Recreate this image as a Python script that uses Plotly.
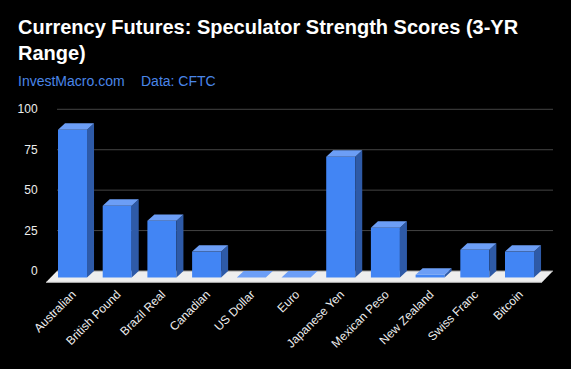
import plotly.graph_objects as go

categories = ["Australian", "British Pound", "Brazil Real", "Canadian", "US Dollar", "Euro",
              "Japanese Yen", "Mexican Peso", "New Zealand", "Swiss Franc", "Bitcoin"]
scores = [91.4, 44.3, 35.0, 16.0, 0.0, 0.0, 74.6, 30.7, 1.7, 17.1, 16.0]
y_ticks = [0, 25, 50, 75, 100]

FRONT = "#4285f4"
TOP = "#6c9ef6"
SIDE = "#2e5aa7"
W = 0.649      # bar width (category units)
DX = 0.157     # depth offset in x (category units)
DY = 4.0       # depth offset in y (value units)

idx = list(range(len(categories)))

fig = go.Figure()
fig.add_trace(go.Bar(x=idx, y=scores, base=[-DY] * len(scores), width=W,
                     marker=dict(color=FRONT, line=dict(width=0)), hoverinfo="skip"))

top_x, top_y, side_x, side_y = [], [], [], []
for i, v in zip(idx, scores):
    l, r = i - W / 2, i + W / 2
    top_x += [l, r, r + DX, l + DX, l, None]
    top_y += [v - DY, v - DY, v, v, v - DY, None]
    side_x += [r, r + DX, r + DX, r, r, None]
    side_y += [-DY, 0, v, v - DY, -DY, None]

fig.add_trace(go.Scatter(x=side_x, y=side_y, mode="lines", fill="toself", fillcolor=SIDE,
                         line=dict(width=0, color=SIDE), hoverinfo="skip"))
fig.add_trace(go.Scatter(x=top_x, y=top_y, mode="lines", fill="toself", fillcolor=TOP,
                         line=dict(width=0, color=TOP), hoverinfo="skip"))

x_lo, x_hi = -0.593, 10.749
back_left = -0.347
floor_front = -7.0
floor_dx = back_left - x_lo

shapes = []
for t in y_ticks[1:]:
    shapes.append(dict(type="line", xref="x", yref="y", x0=back_left, x1=x_hi, y0=t, y1=t,
                       line=dict(color="#444444", width=1), layer="below"))
shapes.append(dict(type="path", xref="x", yref="y", layer="below",
                   path=f"M {back_left},0 L {x_hi},0 L {x_hi - floor_dx},{floor_front} L {x_lo},{floor_front} Z",
                   fillcolor="#eeeeee", line=dict(width=0)))
shapes.append(dict(type="line", xref="x", yref="y", x0=back_left, x1=x_hi, y0=0, y1=0,
                   line=dict(color="#999999", width=1), layer="below"))
shapes.append(dict(type="line", xref="x", yref="y", x0=x_lo, x1=x_hi - floor_dx, y0=floor_front, y1=floor_front,
                   line=dict(color="#bbbbbb", width=1), layer="below"))

sub_y = (369 - 85 - 81) / 176

fig.update_layout(
    width=571, height=369,
    paper_bgcolor="black", plot_bgcolor="black",
    margin=dict(l=46, r=18, t=108, b=85),
    showlegend=False,
    font=dict(family="Liberation Sans, Arial, sans-serif", color="#eeeeee", size=12),
    title=dict(text="<b>Currency Futures: Speculator Strength Scores (3-YR<br>Range)</b>",
               x=18 / 571, xanchor="left", xref="container",
               y=1 - 34 / 369, yanchor="top", yref="container",
               font=dict(size=20, color="white", family="Liberation Sans, Arial, sans-serif")),
    shapes=shapes,
    annotations=[
        dict(text="InvestMacro.com", xref="paper", yref="paper", showarrow=False,
             x=(16 - 46) / 507, xanchor="left", y=sub_y, yanchor="middle",
             font=dict(size=14, color="#4a86e8")),
        dict(text="Data: CFTC", xref="paper", yref="paper", showarrow=False,
             x=(139 - 46) / 507, xanchor="left", y=sub_y, yanchor="middle",
             font=dict(size=14, color="#4a86e8")),
    ],
    xaxis=dict(range=[x_lo, x_hi], tickvals=idx, ticktext=categories, tickangle=-45,
               showgrid=False, zeroline=False, showline=False, ticks="",
               tickfont=dict(size=12, color="#eeeeee")),
    yaxis=dict(range=[-8.04, 100.8], tickvals=y_ticks, showgrid=False, zeroline=False,
               showline=False, ticks="outside", ticklen=5, tickcolor="rgba(0,0,0,0)",
               tickfont=dict(size=12, color="#eeeeee")),
)

fig.write_html("out.html")
